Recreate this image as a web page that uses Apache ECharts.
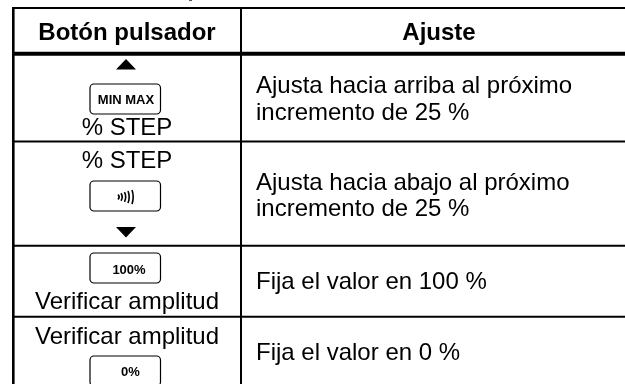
<!DOCTYPE html>
<html><head><meta charset="utf-8">
<script src="https://cdn.jsdelivr.net/npm/echarts@6/dist/echarts.min.js"></script>
<style>html,body{margin:0;padding:0;background:#fff}#c{width:625px;height:384px}</style>
</head><body><div id="c"></div>
<script>
var headers = ['Botón pulsador', 'Ajuste'];
var leftTexts = [['% STEP', 127, 128], ['% STEP', 127, 161.5], ['Verificar amplitud', 127, 302.5], ['Verificar amplitud', 127, 337]];
var adjustTexts = [
  [['Ajusta hacia arriba al próximo', 86], ['incremento de 25 %', 113]],
  [['Ajusta hacia abajo al próximo', 183], ['incremento de 25 %', 209]],
  [['Fija el valor en 100 %', 282]],
  [['Fija el valor en 0 %', 353.5]]
];
var buttonTops = [84, 181, 253, 356];
var buttonLabels = [['MIN MAX', 126, 100.5], ['100%', 129, 270], ['0%', 130.5, 372]];
var els = [];
var S = 24;
function line(x1, y1, x2, y2, w) {
  els.push({type:'line', shape:{x1:x1,y1:y1,x2:x2,y2:y2}, style:{stroke:'#000', lineWidth:w}});
}
function txt(s, x, y, size, weight, align) {
  els.push({type:'text', x:x, y:y, style:{text:s, fill:'#000', font:(weight||'normal')+' '+size+'px "Liberation Sans", Arial, sans-serif', textAlign:align||'center', textVerticalAlign:'middle'}});
}
var L=13.3, R=625, M=241, T=8, B=384;
line(L-1.3,T,R,T,2);
line(L,T,L,B,2.6);
line(M,T,M,B,2);
line(L,53.8,R,53.8,4);
line(L,141.5,R,141.5,2);
line(L,245.7,R,245.7,2);
line(L,316.7,R,316.7,2);
txt(headers[0],127,33,S,'bold');
txt(headers[1],439,33,S,'bold');
leftTexts.forEach(function(t){ txt(t[0],t[1],t[2],S); });
adjustTexts.forEach(function(lines){ lines.forEach(function(l){ txt(l[0],256,l[1],S,'normal','left'); }); });
buttonTops.forEach(function(y){
  els.push({type:'rect', shape:{x:90,y:y,width:70.5,height:30,r:4}, style:{fill:'#fff',stroke:'#000',lineWidth:1.2}});
});
buttonLabels.forEach(function(b){ txt(b[0],b[1],b[2],13,'bold'); });
[[118,2.5],[121,3.7],[124.5,4.8],[128,6],[132,7]].forEach(function(a){
  els.push({type:'bezierCurve', shape:{x1:a[0],y1:197-a[1],x2:a[0],y2:197+a[1],cpx1:a[0]+2.4,cpy1:197}, style:{stroke:'#000',lineWidth:1.6,fill:null}});
});
els.push({type:'polygon', shape:{points:[[116,69.5],[136,69.5],[126,59]]}, style:{fill:'#000'}});
els.push({type:'polygon', shape:{points:[[116,227],[136,227],[126,237.5]]}, style:{fill:'#000'}});
els.push({type:'rect', shape:{x:189,y:0,width:3,height:1}, style:{fill:'#555'}});
var chart = echarts.init(document.getElementById('c'), null, {renderer:'canvas'});
chart.setOption({animation:false, graphic:{elements:els}});
</script></body></html>
